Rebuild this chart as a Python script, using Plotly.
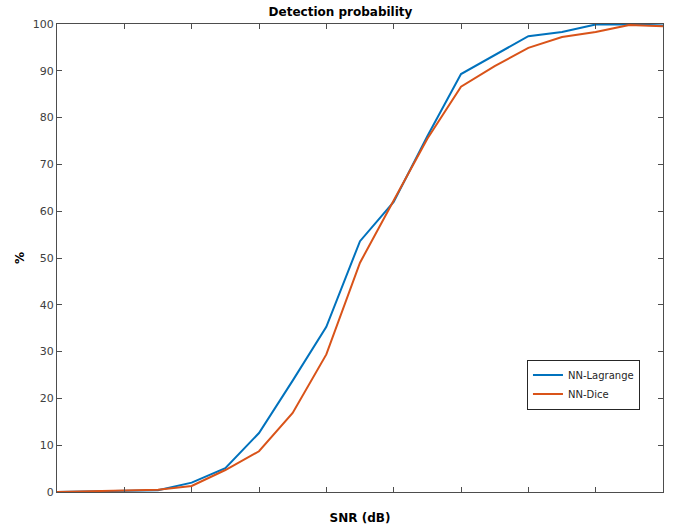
import plotly.graph_objects as go

snr_index = list(range(19))
nn_lagrange = [0, 0.1, 0.2, 0.4, 2.0, 5.1, 12.6, 23.8, 35.3, 53.6, 62.0, 76.0, 89.3, 93.3, 97.4, 98.3, 99.9, 99.9, 99.7]
nn_dice = [0, 0.2, 0.3, 0.5, 1.3, 4.7, 8.7, 16.9, 29.4, 49.0, 62.3, 75.5, 86.6, 91.0, 94.9, 97.2, 98.3, 99.8, 99.5]
y_ticks = list(range(0, 101, 10))
x_ticks = list(range(0, 19, 2))

fig = go.Figure()
fig.add_trace(go.Scatter(x=snr_index, y=nn_lagrange, mode="lines", name="NN-Lagrange",
                         line=dict(color="#0072BD", width=2)))
fig.add_trace(go.Scatter(x=snr_index, y=nn_dice, mode="lines", name="NN-Dice",
                         line=dict(color="#D95319", width=2)))

axis_color = "#4d4d4d"
fig.update_layout(
    width=681, height=529,
    margin=dict(l=57, r=18, t=24, b=37),
    paper_bgcolor="white", plot_bgcolor="white",
    font=dict(family="DejaVu Sans", size=11, color="#262626"),
    title=dict(text="<b>Detection probability</b>", x=0.5, xanchor="center",
               y=1 - 12 / 529, yanchor="middle", font=dict(size=12, color="black")),
    showlegend=True,
    legend=dict(x=0.962, xanchor="right", y=0.283, yanchor="top",
                bordercolor="#262626", borderwidth=1, bgcolor="white",
                font=dict(size=10, color="#262626"), tracegroupgap=0,
                itemwidth=30),
    xaxis=dict(range=[0, 18], tickvals=x_ticks, showticklabels=False,
               ticks="inside", ticklen=5, tickcolor=axis_color,
               showline=True, linecolor=axis_color, linewidth=1, mirror="ticks",
               showgrid=False, zeroline=False, automargin=False,
               title=dict(text="<b>SNR (dB)</b>", standoff=21,
                          font=dict(size=12, color="black"))),
    yaxis=dict(range=[0, 100], tickvals=y_ticks,
               ticks="inside", ticklen=5, tickcolor=axis_color,
               showline=True, linecolor=axis_color, linewidth=1, mirror="ticks",
               showgrid=False, zeroline=False, automargin=False,
               tickfont=dict(size=11, color="#404040"),
               title=dict(text="<b>%</b>", standoff=5,
                          font=dict(size=12, color="black"))),
)

fig.write_html("out.html")
